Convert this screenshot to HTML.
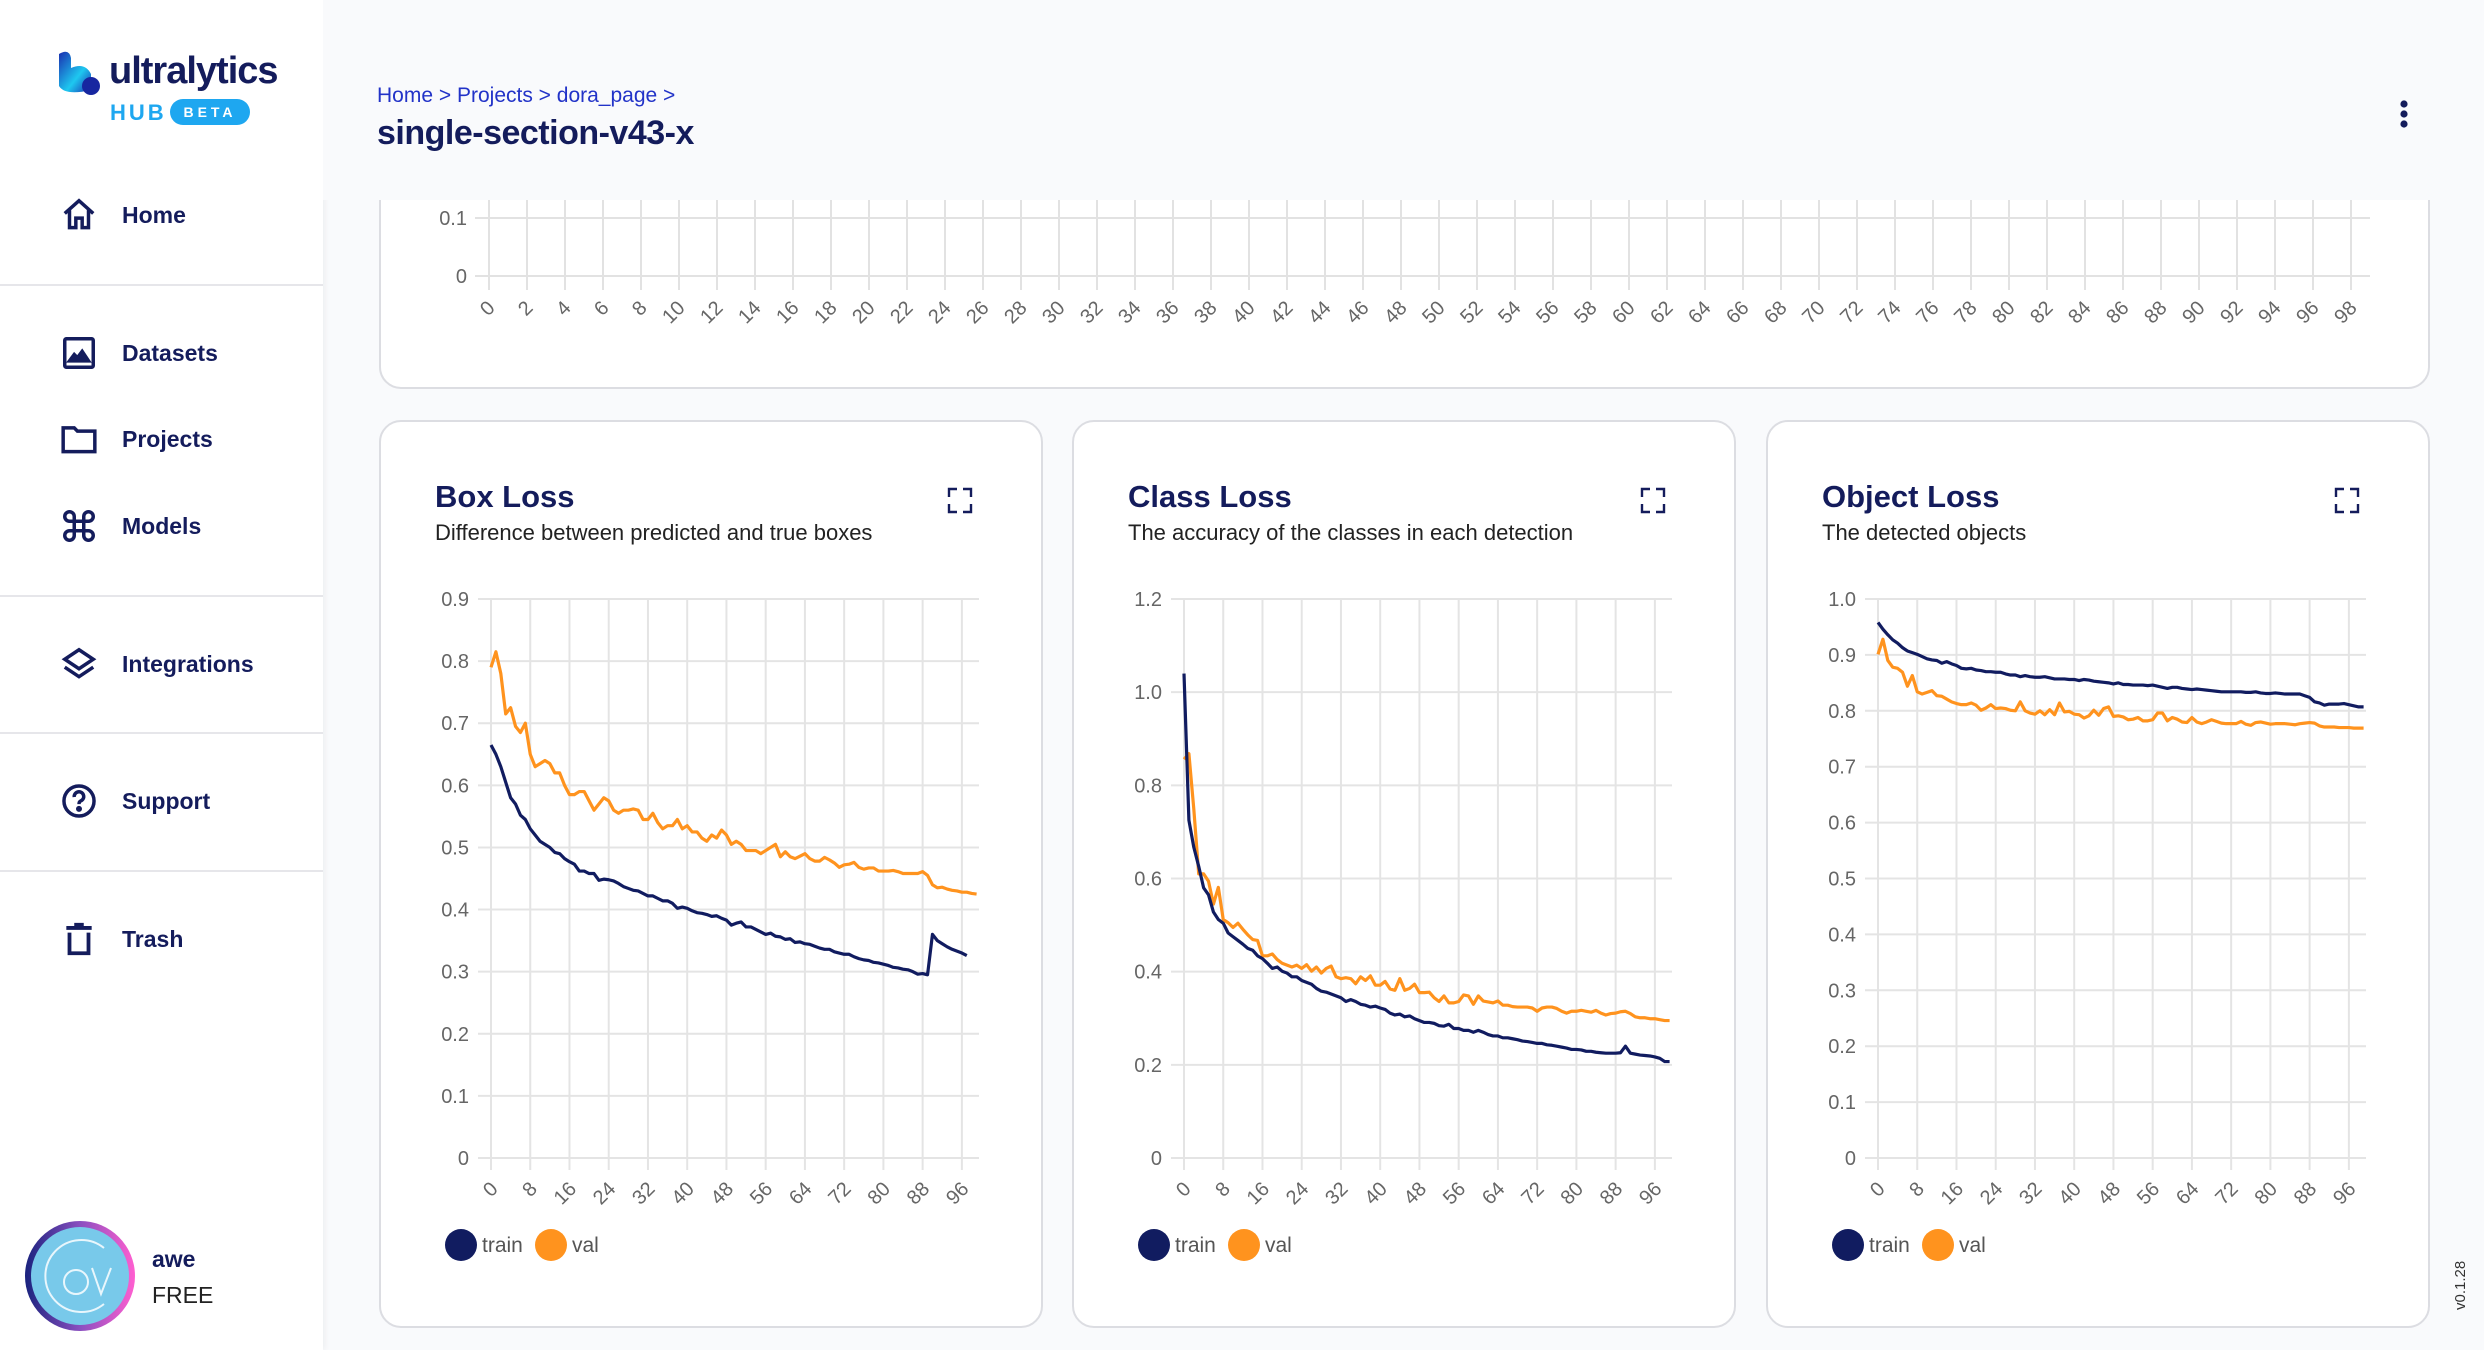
<!DOCTYPE html>
<html><head><meta charset="utf-8">
<style>
html,body{margin:0;padding:0}
body{width:2484px;height:1350px;position:relative;overflow:hidden;background:#f9fafc;font-family:"Liberation Sans",Arial,sans-serif}
.abs{position:absolute}
#sidebar{left:0;top:0;width:323px;height:1350px;background:#fff;box-shadow:2px 0 6px rgba(0,0,0,0.05)}
.nav{position:absolute;left:60px;height:40px;display:flex;align-items:center;color:#141c5c;font-size:23px;font-weight:bold}
.nav svg{width:38px;height:38px;margin-right:24px}
.div{position:absolute;left:0;width:323px;height:2px;background:#e6e6ea}
.card{position:absolute;background:#fff;border:2px solid #dcdde2;border-radius:22px;box-sizing:border-box}
</style></head>
<body>
<div id="sidebar" class="abs">
  <div class="abs" style="left:55px;top:50px">
    <svg width="50" height="46" style="position:absolute;left:0;top:0">
      <defs><linearGradient id="lg" x1="0" y1="0" x2="1" y2="1"><stop offset="0" stop-color="#1a2fb0"/><stop offset="0.6" stop-color="#1ec8f0"/><stop offset="1" stop-color="#1a2fb0"/></linearGradient></defs>
      <path d="M4 4 Q14 -2 16 8 L16 18 Q30 12 36 24 L36 40 Q10 46 4 36 Z" fill="url(#lg)"/>
      <circle cx="36" cy="36" r="9" fill="#1726a0"/>
    </svg>
    <div class="abs" style="left:54px;top:0px;font-size:38px;font-weight:bold;color:#141c5c;letter-spacing:-1px">ultralytics</div>
    <div class="abs" style="left:55px;top:50px;font-size:22px;font-weight:bold;color:#1ea7f0;letter-spacing:3px">HUB</div>
    <div class="abs" style="left:115px;top:49px;width:80px;height:26px;border-radius:13px;background:#1ea7f0;color:#fff;font-size:14px;font-weight:bold;letter-spacing:4px;text-align:center;line-height:26px">BETA</div>
  </div>
  <div class="nav" style="top:195px"><svg viewBox="0 0 24 24" fill="none" stroke="#141c5c" stroke-width="2.2"><path d="M3 11 L12 3 L21 11 M6 9 V20 H10 V14 H14 V20 H18 V9"/></svg>Home</div>
  <div class="div" style="top:284px"></div>
  <div class="nav" style="top:333px"><svg viewBox="0 0 24 24" fill="none" stroke="#141c5c" stroke-width="2.2"><rect x="3" y="3" width="18" height="18" rx="1"/><path d="M6 17 L9 13 L11 15 L14 11 L18 17 Z" fill="#141c5c"/></svg>Datasets</div>
  <div class="nav" style="top:419px"><svg viewBox="0 0 24 24" fill="none" stroke="#141c5c" stroke-width="2.2"><path d="M2 5 H9 L11 7 H22 V20 H2 Z"/></svg>Projects</div>
  <div class="nav" style="top:506px"><svg viewBox="0 0 24 24" fill="none" stroke="#141c5c" stroke-width="2.2"><path d="M9 9 V15 M15 9 V15 M9 9 H15 M9 15 H15 M9 9 H6 A3 3 0 1 1 9 6 Z M15 9 V6 A3 3 0 1 1 18 9 Z M9 15 V18 A3 3 0 1 1 6 15 Z M15 15 H18 A3 3 0 1 1 15 18 Z"/></svg>Models</div>
  <div class="div" style="top:595px"></div>
  <div class="nav" style="top:644px"><svg viewBox="0 0 24 24" fill="none" stroke="#141c5c" stroke-width="2.2"><path d="M12 3 L21 9 L12 15 L3 9 Z M3 14 L12 20 L21 14"/></svg>Integrations</div>
  <div class="div" style="top:732px"></div>
  <div class="nav" style="top:781px"><svg viewBox="0 0 24 24" fill="none" stroke="#141c5c" stroke-width="2.2"><circle cx="12" cy="12" r="9.5"/><path d="M9 9.5 A3 3 0 1 1 13 12 Q12 12.5 12 14"/><circle cx="12" cy="17" r="0.8" fill="#141c5c"/></svg>Support</div>
  <div class="div" style="top:870px"></div>
  <div class="nav" style="top:919px"><svg viewBox="0 0 24 24" fill="none" stroke="#141c5c" stroke-width="2.4"><path d="M4 5 H20 M9 3 H15 M6 8 V21 H18 V8"/></svg>Trash</div>
  <svg class="abs" style="left:24px;top:1220px" width="112" height="112">
    <defs><linearGradient id="ag" x1="0" y1="0" x2="1" y2="0"><stop offset="0" stop-color="#1a237e"/><stop offset="0.5" stop-color="#8a4fc0"/><stop offset="1" stop-color="#ff5fd0"/></linearGradient></defs>
    <circle cx="56" cy="56" r="55" fill="url(#ag)"/>
    <circle cx="56" cy="56" r="49" fill="#78c9ea"/>
    <path d="M80 28 A36 36 0 1 0 80 84" fill="none" stroke="#e8f6fc" stroke-width="2"/>
    <circle cx="52" cy="62" r="12" fill="none" stroke="#e8f6fc" stroke-width="2"/>
    <path d="M68 48 L77 74 L87 48" fill="none" stroke="#e8f6fc" stroke-width="2"/>
  </svg>
  <div class="abs" style="left:152px;top:1246px;font-size:23px;font-weight:bold;color:#141c5c">awe</div>
  <div class="abs" style="left:152px;top:1282px;font-size:23px;color:#222">FREE</div>
</div>

<div class="card" style="left:379px;top:-60px;width:2051px;height:449px">
</div>
<svg id="topchart" class="abs" style="left:0;top:0" width="2484" height="400"></svg>
<div class="abs" style="left:323px;top:0;width:2161px;height:200px;background:#f9fafc"></div>
<div class="abs" style="left:377px;top:84px;font-size:21px;color:#2233c8"><span>Home</span> &gt; <span>Projects</span> &gt; <span>dora_page</span> &gt;</div>
<div class="abs" style="left:377px;top:114px;font-size:34px;color:#141c5c;font-weight:bold;letter-spacing:-0.5px">single-section-v43-x</div>
<svg class="abs" style="left:2396px;top:100px" width="16" height="28"><circle cx="8" cy="4" r="3.6" fill="#141c5c"/><circle cx="8" cy="14" r="3.6" fill="#141c5c"/><circle cx="8" cy="24" r="3.6" fill="#141c5c"/></svg>

<div class="card" style="left:379px;top:420px;width:664px;height:908px"></div>
<div class="card" style="left:1072px;top:420px;width:664px;height:908px"></div>
<div class="card" style="left:1766px;top:420px;width:664px;height:908px"></div>
<svg id="charts" class="abs" style="left:0;top:0" width="2484" height="1350"></svg>
<div class="abs" style="left:2452px;top:1310px;transform:rotate(-90deg);transform-origin:0 0;font-size:15px;color:#333">v0.1.28</div>

<script>
const NS='http://www.w3.org/2000/svg';
const epochs=[];for(let i=0;i<100;i++)epochs.push(i);
const boxTrain=[0.665,0.65,0.63,0.605,0.58,0.57,0.552,0.545,0.53,0.52,0.51,0.505,0.5,0.492,0.49,0.482,0.477,0.473,0.462,0.462,0.458,0.458,0.447,0.449,0.448,0.446,0.442,0.437,0.434,0.431,0.43,0.426,0.422,0.422,0.418,0.414,0.414,0.41,0.402,0.404,0.402,0.398,0.395,0.394,0.392,0.389,0.39,0.386,0.383,0.375,0.378,0.38,0.372,0.372,0.368,0.364,0.36,0.362,0.357,0.356,0.352,0.353,0.347,0.348,0.345,0.344,0.341,0.338,0.336,0.336,0.332,0.33,0.328,0.328,0.324,0.321,0.319,0.318,0.315,0.314,0.312,0.31,0.307,0.306,0.304,0.303,0.3,0.296,0.297,0.295,0.36,0.35,0.345,0.34,0.336,0.333,0.33,0.326];
const boxVal=[0.79,0.815,0.78,0.715,0.725,0.695,0.685,0.7,0.65,0.63,0.635,0.64,0.635,0.62,0.62,0.6,0.585,0.585,0.59,0.59,0.575,0.56,0.57,0.58,0.575,0.56,0.555,0.56,0.56,0.562,0.56,0.545,0.545,0.555,0.54,0.53,0.535,0.535,0.545,0.53,0.535,0.525,0.525,0.515,0.51,0.52,0.515,0.528,0.52,0.505,0.51,0.505,0.495,0.495,0.495,0.49,0.495,0.5,0.505,0.485,0.493,0.485,0.482,0.486,0.49,0.482,0.478,0.478,0.484,0.48,0.475,0.468,0.472,0.473,0.476,0.468,0.465,0.467,0.467,0.462,0.462,0.462,0.463,0.461,0.458,0.458,0.458,0.458,0.461,0.455,0.44,0.435,0.436,0.433,0.431,0.43,0.428,0.428,0.426,0.425];
const clsTrain=[1.04,0.725,0.667,0.626,0.58,0.565,0.528,0.512,0.504,0.483,0.475,0.467,0.459,0.45,0.446,0.434,0.428,0.418,0.407,0.41,0.401,0.397,0.389,0.389,0.381,0.377,0.373,0.364,0.358,0.356,0.352,0.348,0.344,0.336,0.34,0.336,0.33,0.328,0.324,0.326,0.322,0.319,0.311,0.307,0.309,0.303,0.305,0.299,0.295,0.291,0.291,0.289,0.284,0.283,0.287,0.278,0.278,0.274,0.274,0.27,0.274,0.27,0.265,0.262,0.262,0.258,0.258,0.256,0.254,0.251,0.25,0.248,0.246,0.246,0.243,0.242,0.24,0.238,0.236,0.233,0.233,0.232,0.229,0.229,0.227,0.226,0.225,0.225,0.225,0.226,0.24,0.225,0.223,0.221,0.22,0.219,0.217,0.214,0.207,0.207];
const clsVal=[0.856,0.868,0.749,0.61,0.61,0.594,0.545,0.581,0.512,0.505,0.495,0.504,0.491,0.479,0.469,0.467,0.434,0.434,0.438,0.426,0.418,0.414,0.41,0.414,0.407,0.415,0.401,0.41,0.397,0.407,0.412,0.389,0.385,0.387,0.385,0.374,0.389,0.381,0.391,0.371,0.371,0.379,0.363,0.36,0.385,0.36,0.364,0.373,0.355,0.355,0.356,0.344,0.336,0.348,0.333,0.333,0.336,0.35,0.348,0.33,0.348,0.337,0.335,0.333,0.337,0.328,0.328,0.325,0.324,0.324,0.324,0.322,0.315,0.322,0.324,0.324,0.321,0.315,0.311,0.315,0.315,0.317,0.315,0.313,0.317,0.311,0.307,0.31,0.311,0.314,0.315,0.31,0.303,0.301,0.301,0.299,0.299,0.297,0.295,0.295];
const objTrain=[0.958,0.946,0.936,0.927,0.921,0.913,0.907,0.904,0.901,0.897,0.893,0.891,0.89,0.885,0.888,0.884,0.881,0.876,0.875,0.876,0.873,0.872,0.87,0.87,0.869,0.869,0.866,0.864,0.864,0.861,0.863,0.861,0.86,0.86,0.861,0.859,0.857,0.857,0.857,0.856,0.856,0.854,0.856,0.855,0.853,0.852,0.851,0.85,0.848,0.85,0.847,0.847,0.846,0.846,0.846,0.845,0.846,0.844,0.842,0.84,0.842,0.842,0.84,0.839,0.838,0.839,0.838,0.837,0.836,0.835,0.834,0.834,0.834,0.834,0.834,0.833,0.833,0.834,0.832,0.831,0.831,0.832,0.831,0.83,0.83,0.83,0.83,0.827,0.824,0.816,0.814,0.81,0.812,0.812,0.812,0.813,0.811,0.809,0.807,0.807];
const objVal=[0.901,0.928,0.89,0.878,0.876,0.869,0.844,0.863,0.834,0.83,0.833,0.836,0.827,0.826,0.821,0.816,0.813,0.811,0.811,0.814,0.81,0.801,0.805,0.811,0.804,0.805,0.804,0.801,0.8,0.816,0.8,0.796,0.794,0.8,0.793,0.802,0.793,0.814,0.798,0.799,0.794,0.793,0.787,0.791,0.801,0.792,0.804,0.807,0.79,0.791,0.789,0.784,0.785,0.788,0.782,0.782,0.784,0.796,0.796,0.782,0.788,0.785,0.78,0.779,0.788,0.78,0.777,0.78,0.784,0.781,0.778,0.777,0.777,0.777,0.781,0.776,0.774,0.779,0.78,0.778,0.776,0.777,0.777,0.777,0.776,0.775,0.777,0.778,0.779,0.778,0.773,0.771,0.771,0.771,0.77,0.77,0.77,0.769,0.769,0.769];
const boxTicks=[0,0.1,0.2,0.3,0.4,0.5,0.6,0.7,0.8,0.9];
const boxTickLabels=['0','0.1','0.2','0.3','0.4','0.5','0.6','0.7','0.8','0.9'];
const clsTicks=[0,0.2,0.4,0.6,0.8,1.0,1.2];
const clsTickLabels=['0','0.2','0.4','0.6','0.8','1.0','1.2'];
const objTicks=[0,0.1,0.2,0.3,0.4,0.5,0.6,0.7,0.8,0.9,1.0];
const objTickLabels=['0','0.1','0.2','0.3','0.4','0.5','0.6','0.7','0.8','0.9','1.0'];
const xTickValues=[0,8,16,24,32,40,48,56,64,72,80,88,96];
const topTicks=[0,0.1];
const topTickLabels=['0','0.1'];

function mk(tag,attrs,parent,text){const e=document.createElementNS(NS,tag);for(const k in attrs)e.setAttribute(k,attrs[k]);if(text!==undefined)e.textContent=text;parent.appendChild(e);return e;}

/* top chart */
const topSvg=document.getElementById('topchart');
(function(){
  const x=v=>489+v*19, y=v=>276-v*580;
  topTicks.forEach((t,i)=>{
    const l=mk('line',{x1:475,x2:2370,y1:y(t),y2:y(t),stroke:'#e2e2e2','stroke-width':2},topSvg);
    
    
    const tx=mk('text',{x:467,y:y(t)+7,'text-anchor':'end','font-size':20,fill:'#666','font-family':'Liberation Sans'},topSvg,topTickLabels[i]);
    
    
  });
  for(let v=0;v<=98;v+=2){
    const l=mk('line',{x1:x(v),x2:x(v),y1:150,y2:290,stroke:'#e2e2e2','stroke-width':2},topSvg);
    
    
    const tx=mk('text',{x:x(v)+7,y:309,'text-anchor':'end','font-size':20,fill:'#666','font-family':'Liberation Sans',transform:`rotate(-45 ${x(v)+7} 309)`},topSvg,String(v));
    
    
  }
})();

/* loss charts */
const svg=document.getElementById('charts');
function chart(off,name,title,sub,ticks,tickLabels,ymax,train,val){
  const x0=491+off, xs=4.905, yb=1158, yt=599;
  const x=v=>x0+v*xs, y=v=>yb-(v/ymax)*(yb-yt);
  const g=mk('g',{},svg);
  
  
  const t=mk('text',{x:435+off,y:507,'font-size':31,fill:'#141c5c','font-family':'Liberation Sans','font-weight':'bold'},g,title);
  
  
  const s=mk('text',{x:435+off,y:540,'font-size':22,fill:'#222','font-family':'Liberation Sans'},g,sub);
  
  
  const ex=mk('path',{d:`M${949+off} 497 v-8 h8 M${963+off} 489 h8 v8 M${971+off} 504 v8 h-8 M${957+off} 512 h-8 v-8`,stroke:'#141c5c','stroke-width':2.4,fill:'none'},g);
  
  
  ticks.forEach((tv,i)=>{
    const l=mk('line',{x1:x0-13,x2:979+off,y1:y(tv),y2:y(tv),stroke:'#e4e4e4','stroke-width':2},g);
    
    
    const tx=mk('text',{x:469+off,y:y(tv)+7,'text-anchor':'end','font-size':20,fill:'#666','font-family':'Liberation Sans'},g,tickLabels[i]);
    
    
  });
  xTickValues.forEach(v=>{
    const l=mk('line',{x1:x(v),x2:x(v),y1:yt,y2:yb+12,stroke:'#e4e4e4','stroke-width':2},g);
    
    
    const tx=mk('text',{x:x(v)+8,y:1190,'text-anchor':'end','font-size':20,fill:'#666','font-family':'Liberation Sans',transform:`rotate(-45 ${x(v)+8} 1190)`},g,String(v));
    
    
  });
  const pv=mk('polyline',{points:val.map((v,i)=>x(epochs[i])+','+y(v)).join(' '),fill:'none',stroke:'#ff931e','stroke-width':3.2,'stroke-linejoin':'round'},g);
  
  
  const pt=mk('polyline',{points:train.map((v,i)=>x(epochs[i])+','+y(v)).join(' '),fill:'none',stroke:'#111c60','stroke-width':3.2,'stroke-linejoin':'round'},g);
  
  
  const c1=mk('circle',{cx:461+off,cy:1245,r:16,fill:'#111c60'},g);
  
  
  const l1=mk('text',{x:482+off,y:1252,'font-size':21,fill:'#555','font-family':'Liberation Sans'},g,'train');
  
  
  const c2=mk('circle',{cx:551+off,cy:1245,r:16,fill:'#ff931e'},g);
  
  
  const l2=mk('text',{x:572+off,y:1252,'font-size':21,fill:'#555','font-family':'Liberation Sans'},g,'val');
  
  
}
chart(0,'box-loss','Box Loss','Difference between predicted and true boxes',boxTicks,boxTickLabels,0.9,boxTrain,boxVal);
chart(693,'class-loss','Class Loss','The accuracy of the classes in each detection',clsTicks,clsTickLabels,1.2,clsTrain,clsVal);
chart(1387,'object-loss','Object Loss','The detected objects',objTicks,objTickLabels,1.0,objTrain,objVal);
</script>
</body></html>
